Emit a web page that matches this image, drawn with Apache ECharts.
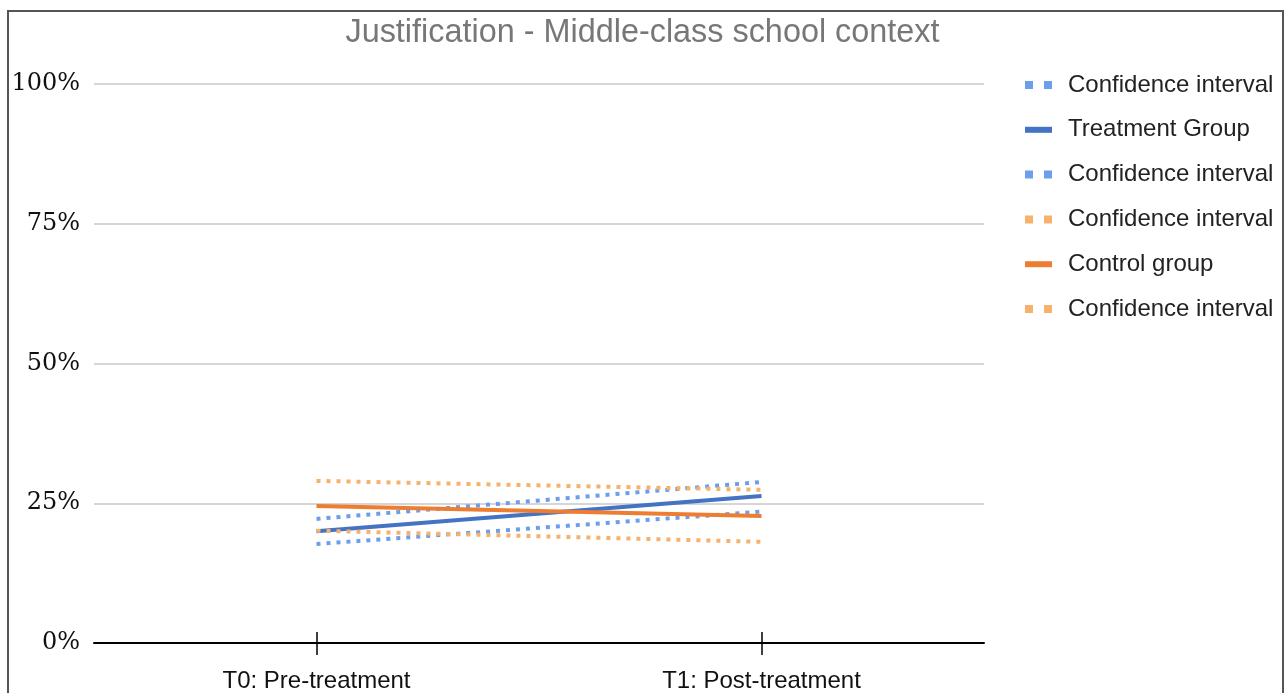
<!DOCTYPE html>
<html><head><meta charset="utf-8">
<script src="https://cdn.jsdelivr.net/npm/echarts@6/dist/echarts.min.js"></script>
<style>
html,body{margin:0;padding:0;background:#fff;overflow:hidden;width:1285px;height:693px;}
#frame{position:absolute;left:7px;top:10px;width:1277px;height:683px;border:2px solid #555;border-bottom:none;box-sizing:border-box;}
#chart{position:absolute;left:0;top:0;width:1285px;height:693px;}
</style></head>
<body>
<div id="frame"></div>
<div id="chart"></div>
<script>
const categories = ['T0: Pre-treatment', 'T1: Post-treatment'];
const treatmentUpper = [22.2, 28.8];
const treatment = [20.0, 26.3];
const treatmentLower = [17.7, 23.5];
const controlUpper = [29.0, 27.4];
const control = [24.5, 22.7];
const controlLower = [20.1, 18.1];
const yTicks = [0, 25, 50, 75, 100];

const blueCI = '#6d9eeb', blue = '#4472c4', orangeCI = '#f6b26b', orange = '#ed7d31';
const chart = echarts.init(document.getElementById('chart'), null, {renderer: 'canvas'});

function dotted(name, data, color) {
  return {name, type: 'line', data, symbol: 'none', silent: true,
    lineStyle: {color, width: 4, type: [4, 6], cap: 'butt'}, itemStyle: {color}};
}
function solid(name, data, color) {
  return {name, type: 'line', data, symbol: 'none', silent: true,
    lineStyle: {color, width: 4}, itemStyle: {color}};
}
const labels = {tu: 'Confidence interval', t: 'Treatment Group', tl: 'Confidence interval',
  cu: 'Confidence interval', c: 'Control group', cl: 'Confidence interval'};
const dotIcon = 'path://M0,0h8v8h-8z M19,0h8v8h-8z';
const lineIcon = 'path://M0,1h27v6h-27z';

chart.setOption({
  animation: false,
  title: {text: 'Justification - Middle-class school context', left: 'center', top: 12,
    textStyle: {fontFamily: 'Liberation Sans', fontSize: 32.4, fontWeight: 'normal', color: '#777'}},
  legend: {orient: 'vertical', left: 1020, top: 68, itemWidth: 27, itemHeight: 8, itemGap: 20.8,
    formatter: n => labels[n],
    textStyle: {fontFamily: 'Liberation Sans', fontSize: 24, lineHeight: 24, color: '#222', padding: [0, 0, 0, 11]},
    data: [
      {name: 'tu', icon: dotIcon}, {name: 't', icon: lineIcon}, {name: 'tl', icon: dotIcon},
      {name: 'cu', icon: dotIcon}, {name: 'c', icon: lineIcon}, {name: 'cl', icon: dotIcon}]},
  grid: {left: 94, right: 301, top: 84, bottom: 48, containLabel: false},
  xAxis: [{type: 'category', data: categories, boundaryGap: true,
    axisLine: {show: true, lineStyle: {color: '#000', width: 2}},
    axisTick: {show: true, alignWithLabel: true, length: 12, lineStyle: {color: '#000', width: 1.5}},
    axisLabel: {fontFamily: 'Liberation Sans', fontSize: 24, color: '#111', margin: 26}},
   {type: 'category', data: categories, boundaryGap: true, position: 'bottom',
    axisLine: {show: false},
    axisTick: {show: true, alignWithLabel: true, inside: true, length: 11, lineStyle: {color: '#000', width: 1.5}},
    axisLabel: {show: false}}],
  yAxis: {type: 'value', min: 0, max: 100, interval: 25,
    axisLine: {show: false}, axisTick: {show: false},
    splitLine: {lineStyle: {color: '#c8c8c8', width: 1.5}},
    axisLabel: {fontFamily: 'DejaVu Serif', fontSize: 24, color: '#111', margin: 14,
      formatter: v => yTicks.includes(v) ? v + '%' : ''}},
  series: [
    dotted('tu', treatmentUpper, blueCI),
    solid('t', treatment, blue),
    dotted('tl', treatmentLower, blueCI),
    dotted('cu', controlUpper, orangeCI),
    solid('c', control, orange),
    dotted('cl', controlLower, orangeCI)
  ]
});
</script>
</body></html>
